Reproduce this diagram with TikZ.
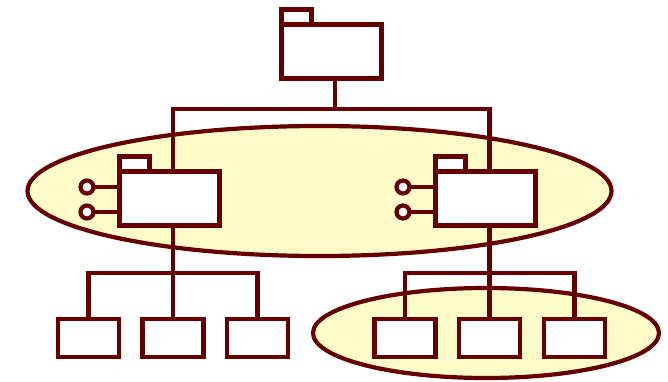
\documentclass[tikz,border=0pt]{standalone}
\usetikzlibrary{positioning}
\definecolor{dred}{RGB}{102,0,0}
\definecolor{pale}{RGB}{255,251,200}

\begin{document}
\begin{tikzpicture}[x=1pt, y=-1pt, line width=4.2pt, color=dred,
  every node/.style={outer sep=0pt, inner sep=0pt},
  fb/.style={draw=dred, fill=white, minimum width=100pt, minimum height=54pt},
  tb/.style={draw=dred, fill=white, minimum width=30pt, minimum height=15pt},
  lb/.style={draw=dred, fill=white, minimum width=61pt, minimum height=38pt},
  pin/.style={circle, draw=dred, fill=white, minimum size=13pt},
  g/.style={draw=dred, fill=pale}]
\useasboundingbox (0,0) rectangle (668,382);
% groups
\draw[g] (319.5,191) ellipse [x radius=292pt, y radius=65pt];
\draw[g] (486,333) ellipse [x radius=173pt, y radius=45pt];
% packages
\node[fb] (t0) at (331.5,51.5) {};
\node[tb, anchor=south west] (t0t) at (t0.north west) {};
\node[fb] (f1) at (169.5,198.5) {};
\node[tb, anchor=south west] (f1t) at (f1.north west) {};
\node[fb] (f2) at (485.5,198.5) {};
\node[tb, anchor=south west] (f2t) at (f2.north west) {};
% leaves
\node[lb] (b1) at (88.5,338) {};
\node[lb] (b2) at (173,338) {};
\node[lb] (b3) at (257.5,338) {};
\node[lb] (b4) at (405,338) {};
\node[lb] (b5) at (489.5,338) {};
\node[lb] (b6) at (574.5,338) {};
% interfaces
\node[pin] (p1) at (87,187) {};
\node[pin] (p2) at (87,212) {};
\node[pin] (p3) at (403,187) {};
\node[pin] (p4) at (403,212) {};
\coordinate (bt) at (0,109);
\coordinate (bl) at (0,273);
\draw ([xshift=3.5pt]t0.south) -- ([xshift=3.5pt]t0.south |- bt);
\draw (b2.north |- f1.north) -- (b2.north |- bt) -- (b5.north |- bt) -- (b5.north |- f2.north);
\draw (b2.north) -- (b2.north |- f1.south);
\draw (b1.north) -- (b1.north |- bl) -- (b3.north |- bl) -- (b3.north);
\draw (b5.north) -- (b5.north |- f2.south);
\draw (b4.north) -- (b4.north |- bl) -- (b6.north |- bl) -- (b6.north);
\foreach \p/\f in {p1/f1,p2/f1,p3/f2,p4/f2} {\draw (\p) -- (\p -| \f.west);}
\end{tikzpicture}
\end{document}
